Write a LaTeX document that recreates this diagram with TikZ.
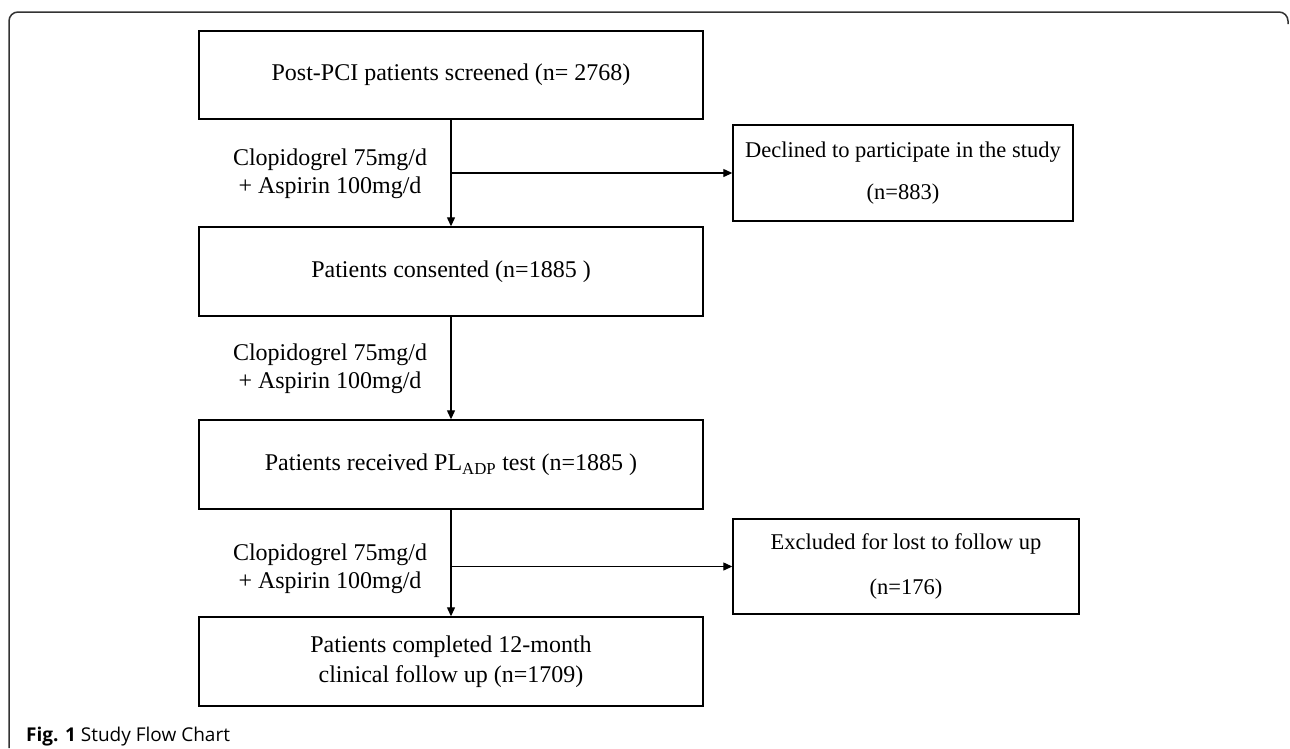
\documentclass[tikz,border=0pt]{standalone}
\usepackage{fontspec}
\setmainfont{Liberation Serif}
\newfontfamily\capfont{Open Sans}
\usetikzlibrary{arrows.meta}

\begin{document}
\begin{tikzpicture}[x=1pt,y=-1pt,
  flowbox/.style={draw,rectangle,line width=1.4pt,inner sep=0pt,align=center,
    font=\fontsize{24}{28}\selectfont},
  sidebox/.style={flowbox,font=\fontsize{22.5}{27}\selectfont},
  druglabel/.style={align=center,inner sep=0pt,font=\fontsize{24}{28}\selectfont},
  flowarrow/.style={-{Triangle[length=9pt,width=8pt]},line width=1.2pt}]
\useasboundingbox (0,0) rectangle (1290,748);
% outer frame
\draw [line width=1.5pt,black!80,rounded corners=9pt] (1288,24) -- (1288,12) -- (9,12) -- (9,748);
% main column
\node [flowbox,minimum width=504pt,minimum height=88pt] (screen) at(451,75){Post-PCI patients screened (n= 2768)};
\node [flowbox,minimum width=504pt,minimum height=89pt] (consent) at(451,271.5){Patients consented (n=1885 )};
\node [flowbox,minimum width=504pt,minimum height=89pt] (pltest) at(451,464.5){Patients received PL\textsubscript{ADP} test (n=1885 )};
\node [flowbox,minimum width=504pt,minimum height=89pt] (done) at(451,661.5){Patients completed 12-month\\[2pt]clinical follow up (n=1709)};
% side boxes
\node [sidebox,minimum width=340pt,minimum height=96pt] (decl) at(903,173){Declined to participate in the study\\[15pt](n=883)};
\node [sidebox,minimum width=346pt,minimum height=95pt] (excl) at(906,566.5){Excluded for lost to follow up\\[18pt](n=176)};
% drug labels
\node [druglabel] (drug1) at(330,174){Clopidogrel 75mg/d\\+ Aspirin 100mg/d};
\node [druglabel] (drug2) at(330,369){Clopidogrel 75mg/d\\+ Aspirin 100mg/d};
\node [druglabel] (drug3) at(330,568.5){Clopidogrel 75mg/d\\+ Aspirin 100mg/d};
% arrows
\draw [flowarrow] (screen) -- (consent);
\draw [flowarrow] (consent) -- (pltest);
\draw [flowarrow] (pltest) -- (done);
\draw [flowarrow] (screen.south |- decl.west) -- (decl.west);
\draw [flowarrow] (pltest.south |- excl.west) -- (excl.west);
% caption
\node [anchor=base west,inner sep=0pt,font=\capfont\fontsize{19}{22}\selectfont] (caption) at(26,741){\textbf{Fig. 1} Study Flow Chart};
\end{tikzpicture}
\end{document}
